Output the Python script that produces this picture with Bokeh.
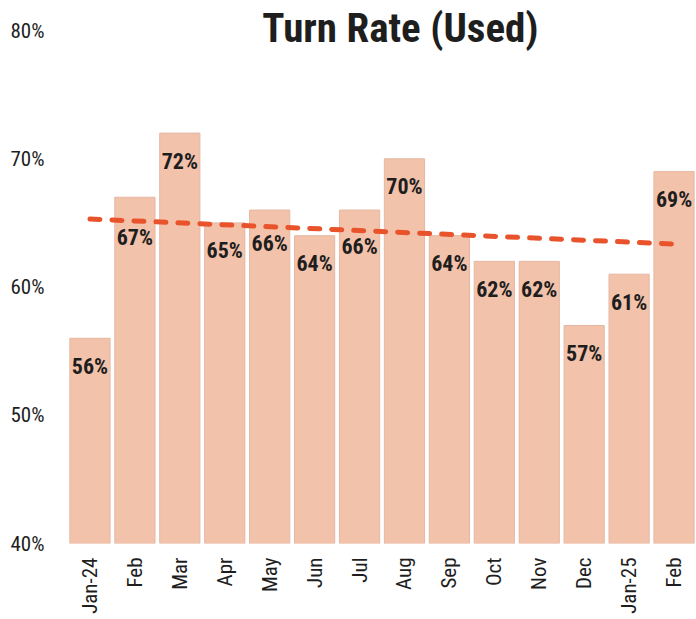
import math
from bokeh.plotting import figure
from bokeh.models import ColumnDataSource, FixedTicker, Label, CustomJSTickFormatter
from bokeh.core.properties import value
from bokeh.embed import file_html
from bokeh.resources import INLINE

# ---- data ----
# second "Feb" carries a zero-width space so the two factors stay distinct
months = ["Jan-24", "Feb", "Mar", "Apr", "May", "Jun", "Jul", "Aug",
          "Sep", "Oct", "Nov", "Dec", "Jan-25", "Feb\u200b"]
turn_rate = [56, 67, 72, 65, 66, 64, 66, 70, 64, 62, 62, 57, 61, 69]
trend_x = ["Jan-24", "Feb\u200b"]
trend_y = [65.3, 63.35]
y_ticks = [40, 50, 60, 70, 80]

NARROW = "'Roboto Condensed', 'Liberation Sans Narrow', 'DejaVu Sans Condensed', 'Open Sans Condensed', Roboto, sans-serif"
BAR = "#F3C2AA"
TXT = "#1E1E1E"

# frame runs to the top of the page; the 80% tick sits 30px below it
p = figure(width=696, height=619, x_range=months, y_range=(40, 82.34),
           output_backend="svg", toolbar_location=None,
           min_border_left=67, min_border_right=0, min_border_top=0,
           min_border_bottom=76, outline_line_color=None,
           background_fill_color="white", border_fill_color="white")

src = ColumnDataSource(dict(
    m=months, v=turn_rate,
    lab=[f"{v}%" for v in turn_rate],
))
p.vbar(x="m", top="v", bottom=40, width=0.895, source=src,
       fill_color=BAR, line_color="#E4B8A3", line_width=1)

# trend line
p.line(trend_x, trend_y, line_color="#E9532B", line_width=5,
       line_dash="10 12", line_cap="round")

# value labels inside bars
nudge = {"Feb": 12, "May": 5, "Jul": 8}
src.data["off"] = [28 + nudge.get(m, 0) for m in months]
p.text(x="m", y="v", text="lab", source=src, y_offset="off",
       text_align="center", text_baseline="middle",
       text_font=value(NARROW), text_font_style="bold",
       text_font_size="22px", text_color=TXT)

# axes
p.xgrid.grid_line_color = None
p.ygrid.grid_line_color = None
for ax in (p.xaxis, p.yaxis):
    ax.axis_line_color = None
    ax.major_tick_line_color = None
    ax.minor_tick_line_color = None
    ax.major_tick_out = 0
    ax.major_tick_in = 0
    ax.major_label_text_font = NARROW
    ax.major_label_text_font_size = "21px"
    ax.major_label_text_color = TXT

p.yaxis.ticker = FixedTicker(ticks=y_ticks)
p.yaxis.formatter = CustomJSTickFormatter(code="return tick + '%';")
p.yaxis.major_label_standoff = 23

p.xaxis.major_label_orientation = math.pi / 2
p.xaxis.major_label_standoff = 14

# title drawn over the top of the plot
p.add_layout(Label(x=7.41, y=80.2, text="Turn Rate (Used)",
                   text_align="center", text_baseline="alphabetic",
                   text_font=NARROW, text_font_style="bold",
                   text_font_size="41px", text_color=TXT))

open("out.html", "w").write(file_html(p, INLINE))
